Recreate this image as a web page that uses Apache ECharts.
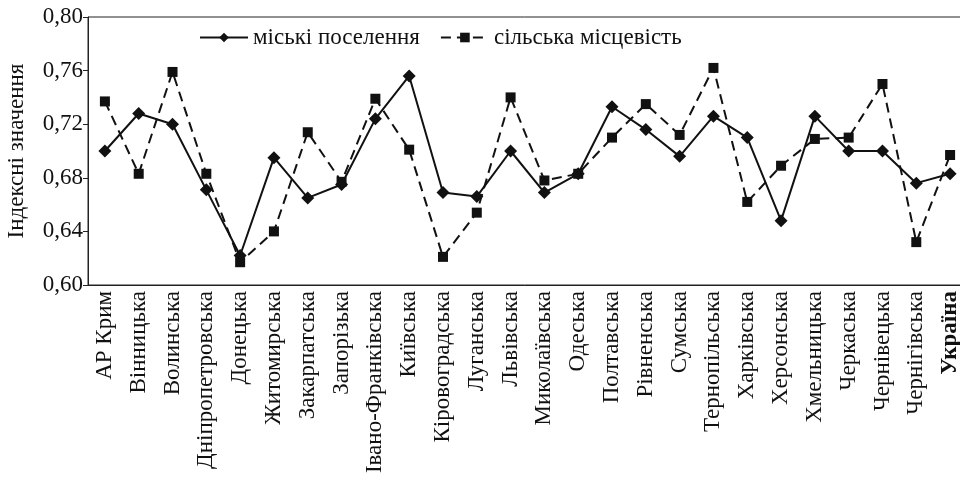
<!DOCTYPE html>
<html>
<head>
<meta charset="utf-8">
<script src="https://cdn.jsdelivr.net/npm/echarts@6/dist/echarts.min.js"></script>
<style>html,body{margin:0;padding:0;background:#fff;}#c{width:960px;height:480px;}</style>
</head>
<body>
<div id="c"></div>
<script>
const categories = ['АР Крим','Вінницька','Волинська','Дніпропетровська','Донецька','Житомирська','Закарпатська','Запорізька','Івано-Франківська','Київська','Кіровоградська','Луганська','Львівська','Миколаївська','Одеська','Полтавська','Рівненська','Сумська','Тернопільська','Харківська','Херсонська','Хмельницька','Черкаська','Чернівецька','Чернігівська','Україна'];
const urban = [0.700,0.728,0.720,0.671,0.622,0.695,0.665,0.675,0.724,0.756,0.669,0.666,0.700,0.669,0.683,0.733,0.716,0.696,0.726,0.710,0.648,0.726,0.700,0.700,0.676,0.683];
const rural = [0.737,0.683,0.759,0.683,0.617,0.640,0.714,0.677,0.739,0.701,0.621,0.654,0.740,0.678,0.683,0.710,0.735,0.712,0.762,0.662,0.689,0.709,0.710,0.750,0.632,0.697];
const yTicks = {min:0.60, max:0.80, interval:0.04};
const urbanName = 'міські поселення';
const ruralName = 'сільська місцевість';
const yName = 'Індексні значення';

const font = '"Liberation Serif", "DejaVu Serif", serif';
const fs = 23;
const chart = echarts.init(document.getElementById('c'));
chart.setOption({
  animation:false,
  backgroundColor:'#fff',
  textStyle:{fontFamily:font},
  grid:{left:88, top:17, bottom:195, right:-7, show:true, borderColor:'#222', borderWidth:1,
        containLabel:false, outerBoundsMode:'none'},
  legend:{
    top:21, left:194, itemWidth:48, itemHeight:12, itemGap:20,
    textStyle:{fontFamily:font, fontSize:fs, color:'#111'},
    data:[urbanName, ruralName]
  },
  xAxis:{
    type:'category', data:categories, boundaryGap:true,
    axisLine:{lineStyle:{color:'#222', width:1}},
    axisTick:{inside:true, length:8, lineStyle:{color:'#222'}},
    axisLabel:{rotate:90, interval:0, margin:6, color:'#111', fontFamily:font, fontSize:fs,
      formatter:function(v){return v==='Україна' ? '{b|'+v+'}' : v;},
      rich:{b:{fontWeight:'bold', fontFamily:font, fontSize:fs, color:'#111'}}
    },
    splitLine:{show:false}
  },
  yAxis:{
    type:'value', min:yTicks.min, max:yTicks.max, interval:yTicks.interval,
    name:yName, nameLocation:'middle', nameGap:60, nameRotate:90,
    nameTextStyle:{fontFamily:font, fontSize:fs, color:'#111'},
    axisLine:{show:true, lineStyle:{color:'#222'}},
    axisTick:{show:true, inside:false, length:5, lineStyle:{color:'#222'}},
    axisLabel:{margin:5, color:'#111', fontFamily:font, fontSize:fs,
      formatter:function(v){return v.toFixed(2).replace('.',',');}},
    splitLine:{show:false}
  },
  series:[
    {name:urbanName, type:'line', data:urban, symbol:'diamond', symbolSize:13,
      lineStyle:{color:'#111', width:2}, itemStyle:{color:'#111'}},
    {name:ruralName, type:'line', data:rural, symbol:'rect', symbolSize:10,
      lineStyle:{color:'#111', width:2, type:[10,6]}, itemStyle:{color:'#111'}}
  ]
});
</script>
</body>
</html>
